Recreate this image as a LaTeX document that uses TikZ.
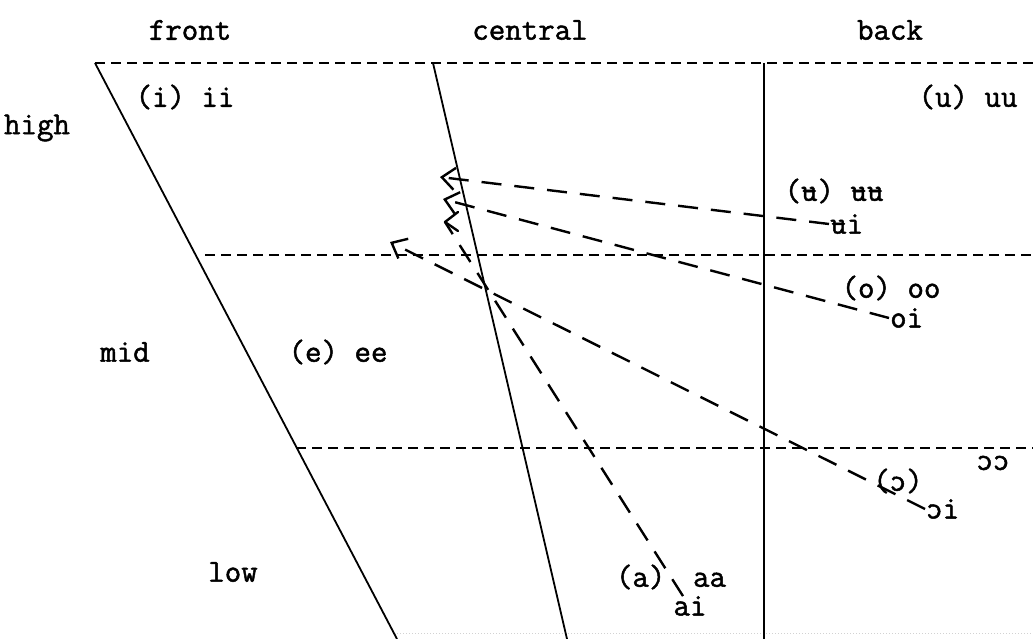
\documentclass[tikz,border=0pt]{standalone}
\usepackage{fontspec}
\usepackage{graphicx}
\setmonofont[FakeBold=1.5]{Latin Modern Mono}
\usetikzlibrary{arrows.meta}
\newcommand{\baru}{\ooalign{u\cr-\cr}}
\newcommand{\opo}{\reflectbox{c}}
\begin{document}
\begin{tikzpicture}[x=1pt,y=-1pt,
  lbl/.style={font=\ttfamily\fontsize{32}{34}\selectfont, inner sep=0pt},
  frame/.style={line width=1.8pt},
  grid/.style={line width=1.6pt, dash pattern=on 10pt off 6pt},
  glide/.style={line width=2.4pt, dash pattern=on 20pt off 13pt},
  diph/.style={glide,
    -{Straight Barb[length=13pt,width=22pt,line width=2.4pt]}},
  barb/.style={line width=2.4pt},
  edge/.style={line width=1pt, gray!35, dotted}
]
\useasboundingbox (0,0) rectangle (1033,639);
% frame
\coordinate (FT) at (95,63);
\coordinate (FB) at (397,639);
\coordinate (CT) at (433,63);
\coordinate (CB) at (567,639);
\coordinate (BT) at (764,63);
\coordinate (BB) at (764,639);
\coordinate (R1) at (1033,63);
\coordinate (M1) at (205,255);
\coordinate (R2) at (1033,255);
\coordinate (L1) at (296,448);
\coordinate (R3) at (1033,448);
\coordinate (E1) at (397,633);
\coordinate (E2) at (1033,633);
\draw[edge] (E1) -- (E2);
\draw[grid] (FT) -- (R1);
\draw[grid] (M1) -- (R2);
\draw[grid] (L1) -- (R3);
\draw[frame] (FT) -- (FB);
\draw[frame] (CT) -- (CB);
\draw[frame] (BT) -- (BB);
% headings
\node[lbl] (front) at (190,30) {front};
\node[lbl] (central) at (530,30) {central};
\node[lbl] (back) at (890,30) {back};
\node[lbl] (high) at (37,128) {high};
\node[lbl] (mid) at (125,352) {mid};
\node[lbl] (low) at (233,572) {low};
% vowels
\node[lbl] (i) at (185,97) {(i) ii};
\node[lbl] (u) at (968,97) {(u) uu};
\node[lbl] (e) at (338,352) {(e) ee};
\node[lbl] (ub) at (834,191) {(\baru) \baru\baru};
\node[lbl, anchor=west] (ui) at (830,224) {\baru i};
\node[lbl] (o) at (891,288) {(o) oo};
\node[lbl, anchor=west] (oi) at (890,318) {oi};
\node[lbl] (oo) at (898,481) {(\opo)};
\node[lbl] (oo2) at (993,463) {\opo\opo};
\node[lbl, anchor=west] (ooi) at (926,509) {\opo i};
\node[lbl] (a) at (671,577) {(a)\ \kern0.35em aa};
\node[lbl] (ai) at (690,606) {ai};
% diphthong glides
\coordinate (t1) at (440,177);
\coordinate (t2) at (443,199);
\coordinate (t3) at (445,222);
\coordinate (t4) at (390,242);
\draw[diph] ([xshift=-1pt]ui.west) -- (t1);
\draw[diph] ([xshift=-1pt]oi.west) -- (t2);
\draw[glide] ([xshift=-7pt]ai.north) -- (t3);
\draw[barb, line cap=round, line join=round] ([shift={(13,-10)}]t3) -- (t3) -- ([shift={(13,9)}]t3);
\draw[diph] ([xshift=-1pt]ooi.west) -- (t4);
\end{tikzpicture}
\end{document}
